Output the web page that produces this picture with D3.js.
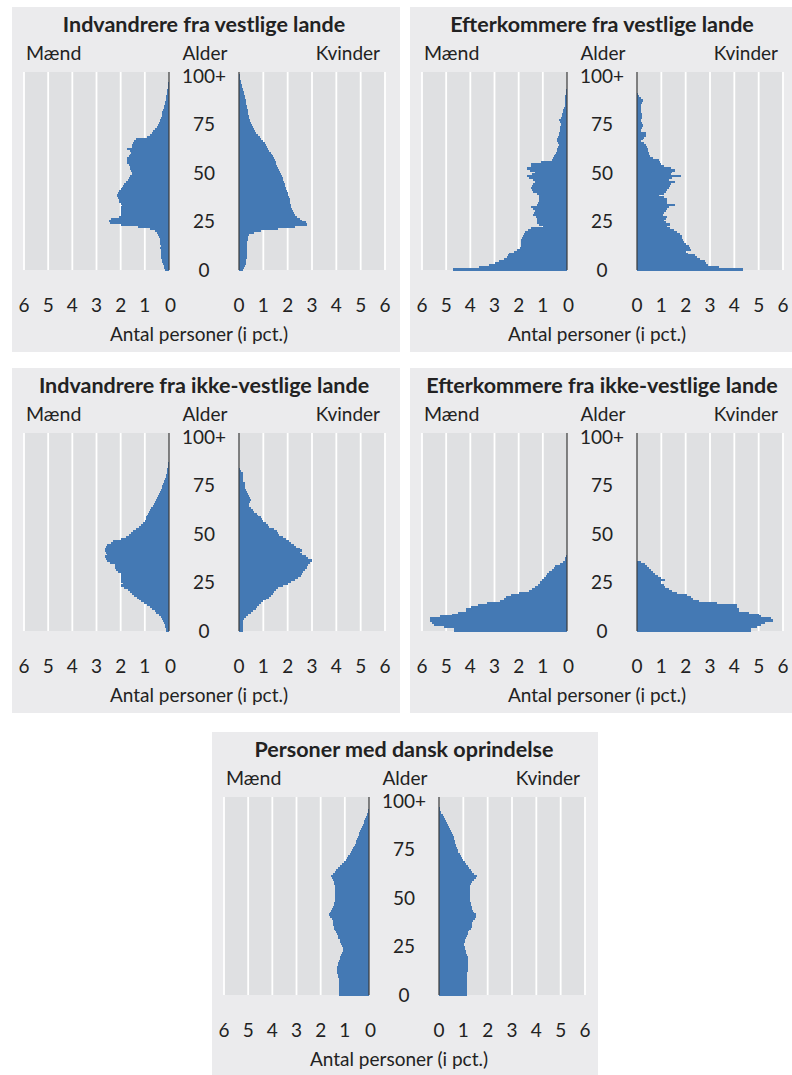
<!DOCTYPE html>
<html>
<head>
<meta charset="utf-8">
<script src="https://cdn.jsdelivr.net/npm/d3@7"></script>
<style>
  body { margin: 0; background: #fff; }
  text { font-family: Lato, "Open Sans", sans-serif; fill: #222; }
</style>
</head>
<body>
<script>
// aldersgrupper 0..100 (100 = 100+)
var ages = d3.range(0, 101)
var ageTicks = [0, 25, 50, 75, 100]
var ageTickLabels = ["0", "25", "50", "75", "100+"]
var pctTicks = [0, 1, 2, 3, 4, 5, 6]

var titles = [
  "Indvandrere fra vestlige lande",
  "Efterkommere fra vestlige lande",
  "Indvandrere fra ikke-vestlige lande",
  "Efterkommere fra ikke-vestlige lande",
  "Personer med dansk oprindelse"
]

// pct. af gruppen, index = alder
var vestIndvMaend = [0.15,0.2,0.22,0.25,0.28,0.3,0.32,0.33,0.34,0.35,
  0.35,0.36,0.35,0.36,0.37,0.37,0.38,0.4,0.44,0.48,
  0.6,0.8,1.3,2.0,2.45,2.5,2.4,2.05,2.0,2.0,
  1.98,1.97,1.97,1.95,2.0,2.05,2.08,2.12,2.15,2.1,
  2.05,2.0,1.95,1.9,1.87,1.8,1.7,1.65,1.6,1.55,
  1.52,1.56,1.6,1.62,1.65,1.72,1.74,1.72,1.65,1.6,
  1.58,1.62,1.75,1.55,1.52,1.5,1.45,1.35,0.9,0.8,
  0.72,0.65,0.56,0.5,0.46,0.42,0.39,0.36,0.33,0.3,
  0.28,0.27,0.24,0.22,0.2,0.18,0.16,0.14,0.13,0.11,
  0.1,0.09,0.07,0.06,0.05,0.04,0.03,0.02,0.02,0.01,0.01]
var vestIndvKvinder = [0.15,0.22,0.25,0.27,0.3,0.3,0.31,0.32,0.32,0.33,
  0.33,0.33,0.34,0.34,0.34,0.35,0.36,0.38,0.42,0.6,
  0.9,1.6,2.3,2.8,2.75,2.6,2.5,2.4,2.3,2.25,
  2.2,2.18,2.15,2.12,2.1,2.1,2.08,2.05,2.03,2.0,
  1.98,1.95,1.92,1.9,1.87,1.85,1.82,1.8,1.76,1.72,
  1.7,1.66,1.62,1.58,1.54,1.5,1.46,1.42,1.38,1.34,
  1.3,1.25,1.2,1.15,1.1,1.05,0.98,0.92,0.85,0.78,
  0.7,0.65,0.6,0.56,0.52,0.48,0.46,0.44,0.42,0.4,
  0.38,0.36,0.35,0.33,0.32,0.3,0.29,0.28,0.26,0.24,
  0.22,0.2,0.18,0.16,0.14,0.12,0.1,0.08,0.06,0.04,0.03]

var vestEfterMaend = [4.7,3.64,3.22,3.0,2.81,2.6,2.48,2.45,2.4,2.2,
  2.07,1.95,1.9,1.9,1.9,1.9,1.86,1.82,1.78,1.74,
  1.6,1.49,0.99,1.15,1.24,1.24,1.24,1.3,1.4,1.35,
  1.32,1.4,1.49,1.24,1.2,1.16,1.16,1.16,1.16,1.25,
  1.4,1.45,1.49,1.45,1.4,1.32,1.4,1.57,1.65,1.45,
  1.32,1.55,1.65,1.5,1.49,1.07,0.62,0.57,0.55,0.5,
  0.45,0.41,0.4,0.36,0.33,0.36,0.41,0.4,0.36,0.35,
  0.32,0.3,0.28,0.27,0.25,0.25,0.3,0.33,0.25,0.22,
  0.2,0.17,0.15,0.13,0.1,0.08,0.08,0.08,0.08,0.07,
  0.05,0.04,0.03,0.02,0.02,0.01,0.01,0,0,0,0]
var vestEfterKvinder = [4.35,3.37,2.9,2.85,2.8,2.6,2.45,2.38,2.1,2.02,
  2.22,2.18,2.13,2.02,1.95,1.9,1.85,1.83,1.78,1.65,
  1.53,1.35,1.23,1.34,1.2,1.12,1.18,1.23,1.06,1.1,
  1.2,1.23,1.3,1.56,1.23,1.23,1.23,1.1,0.9,1.12,
  1.18,1.23,1.31,1.35,1.39,1.56,1.31,1.45,1.8,1.39,
  1.45,1.56,1.4,1.1,0.98,0.95,0.9,0.65,0.55,0.5,
  0.48,0.45,0.45,0.4,0.37,0.3,0.18,0.25,0.29,0.35,
  0.37,0.15,0.15,0.2,0.23,0.2,0.15,0.15,0.2,0.2,
  0.2,0.18,0.15,0.15,0.15,0.18,0.2,0.23,0.15,0.1,
  0.05,0.02,0.01,0,0,0,0,0,0,0,0]

var ikkeIndvMaend = [0.14,0.14,0.15,0.16,0.2,0.25,0.3,0.33,0.43,0.52,
  0.6,0.71,0.8,0.9,1.05,1.15,1.25,1.34,1.45,1.53,
  1.62,1.7,1.85,1.97,1.92,2.0,2.0,2.0,2.0,2.0,
  2.1,2.2,2.22,2.22,2.22,2.45,2.55,2.6,2.63,2.58,
  2.6,2.63,2.66,2.6,2.55,2.4,2.3,2.0,1.8,1.64,
  1.56,1.48,1.35,1.25,1.15,1.08,1.0,0.97,0.94,0.9,
  0.87,0.83,0.8,0.74,0.68,0.64,0.6,0.55,0.5,0.46,
  0.4,0.36,0.33,0.3,0.27,0.25,0.22,0.2,0.16,0.14,
  0.12,0.1,0.08,0.07,0.06,0.05,0.05,0.02,0.02,0.01,
  0.01,0.01,0,0,0,0,0,0,0,0,0]
var ikkeIndvKvinder = [0.15,0.15,0.15,0.15,0.15,0.15,0.2,0.28,0.38,0.48,
  0.57,0.68,0.76,0.82,0.9,1.0,1.1,1.24,1.32,1.4,
  1.45,1.5,1.6,1.8,2.0,2.15,2.3,2.42,2.55,2.6,
  2.65,2.7,2.79,2.8,2.85,2.9,3.0,2.82,2.75,2.6,
  2.5,2.57,2.5,2.35,2.25,2.15,2.05,1.95,1.8,1.65,
  1.6,1.55,1.45,1.25,1.2,1.1,1.0,0.95,0.9,0.78,
  0.72,0.62,0.57,0.5,0.42,0.42,0.46,0.49,0.45,0.42,
  0.38,0.32,0.3,0.25,0.25,0.25,0.25,0.18,0.15,0.15,
  0.15,0.15,0.1,0.05,0,0,0,0,0,0,
  0,0,0,0,0,0,0,0,0,0,0]

var ikkeEfterMaend = [4.67,4.67,5.08,5.49,5.58,5.66,5.66,5.25,4.75,4.5,
  4.18,4.18,3.96,3.68,3.3,2.78,2.6,2.53,2.33,2.0,
  1.59,1.45,1.34,1.2,1.1,1.1,1.05,0.95,0.88,0.81,
  0.73,0.62,0.55,0.48,0.3,0.18,0.1,0.08,0.05,0,
  0,0,0,0,0,0,0,0,0,0,
  0,0,0,0,0,0,0,0,0,0,
  0,0,0,0,0,0,0,0,0,0,
  0,0,0,0,0,0,0,0,0,0,
  0,0,0,0,0,0,0,0,0,0,
  0,0,0,0,0,0,0,0,0,0,0]
var ikkeEfterKvinder = [4.68,4.68,4.93,5.1,5.26,5.59,5.5,5.1,5.0,4.6,
  4.19,4.19,4.1,4.1,3.29,2.55,2.3,2.22,2.05,1.64,
  1.45,1.32,1.15,1.1,0.99,0.99,1.15,0.99,0.85,0.74,
  0.65,0.58,0.5,0.42,0.33,0.16,0,0,0,0,
  0,0,0,0,0,0,0,0,0,0,
  0,0,0,0,0,0,0,0,0,0,
  0,0,0,0,0,0,0,0,0,0,
  0,0,0,0,0,0,0,0,0,0,
  0,0,0,0,0,0,0,0,0,0,
  0,0,0,0,0,0,0,0,0,0,0]

var danskMaend = [1.25,1.25,1.25,1.25,1.25,1.25,1.25,1.25,1.25,1.27,
  1.3,1.32,1.32,1.32,1.32,1.3,1.27,1.25,1.22,1.2,
  1.15,1.1,1.08,1.07,1.07,1.1,1.14,1.18,1.22,1.27,
  1.3,1.33,1.37,1.4,1.43,1.45,1.47,1.48,1.5,1.55,
  1.6,1.64,1.62,1.59,1.52,1.48,1.45,1.43,1.41,1.41,
  1.41,1.41,1.4,1.41,1.41,1.42,1.41,1.43,1.45,1.47,
  1.55,1.58,1.5,1.42,1.35,1.27,1.18,1.1,1.02,0.95,
  0.9,0.85,0.8,0.75,0.7,0.65,0.61,0.58,0.55,0.52,
  0.49,0.46,0.43,0.4,0.37,0.33,0.3,0.26,0.22,0.19,
  0.16,0.13,0.1,0.07,0.05,0.03,0.02,0.01,0.01,0,0]
var danskKvinder = [1.14,1.14,1.14,1.14,1.14,1.14,1.14,1.14,1.14,1.14,
  1.14,1.16,1.18,1.18,1.2,1.2,1.2,1.2,1.19,1.18,
  1.16,1.12,1.1,1.07,1.05,1.04,1.04,1.05,1.07,1.1,
  1.15,1.18,1.2,1.25,1.32,1.35,1.37,1.37,1.4,1.48,
  1.53,1.52,1.45,1.4,1.37,1.34,1.32,1.3,1.28,1.27,
  1.27,1.27,1.27,1.27,1.27,1.27,1.27,1.3,1.37,1.45,
  1.52,1.55,1.45,1.37,1.3,1.25,1.2,1.12,1.06,1.0,
  0.95,0.9,0.85,0.8,0.77,0.74,0.71,0.69,0.67,0.65,
  0.63,0.6,0.56,0.52,0.49,0.45,0.41,0.37,0.33,0.29,
  0.25,0.2,0.15,0.1,0.07,0.05,0.03,0.02,0.01,0.01,0]

var barColor = "#4479b4"

var svg = d3.select("body").append("svg")
    .attr("width", 792)
    .attr("height", 1075)

drawPanel(12, 7, 388, titles[0], vestIndvMaend, vestIndvKvinder)
drawPanel(410, 7, 382, titles[1], vestEfterMaend, vestEfterKvinder)
drawPanel(12, 368, 388, titles[2], ikkeIndvMaend, ikkeIndvKvinder)
drawPanel(410, 368, 382, titles[3], ikkeEfterMaend, ikkeEfterKvinder)
drawPanel(212, 732, 386, titles[4], danskMaend, danskKvinder)

function drawPanel(left, top, w, title, maend, kvinder) {
    var g = svg.append("g").attr("transform", "translate(" + left + "," + top + ")")

    g.append("rect")
        .attr("width", w)
        .attr("height", 345)
        .attr("fill", "#ebebed")

    var y = d3.scaleLinear().domain([0, 102]).range([263, 65])
    var xm = d3.scaleLinear().domain([0, 6]).range([157, 12])
    var xk = d3.scaleLinear().domain([0, 6]).range([227, 373])

    // plot backgrounds
    ;[xm, xk].forEach(function(x) {
        g.append("rect")
            .attr("x", Math.min(x(0), x(6)))
            .attr("y", y(102))
            .attr("width", Math.abs(x(6) - x(0)))
            .attr("height", y(0) - y(102))
            .attr("fill", "#dfe0e2")

        g.selectAll(null)
            .data(pctTicks.slice(1))
            .enter()
            .append("line")
            .attr("x1", function(d) { return x(d) })
            .attr("x2", function(d) { return x(d) })
            .attr("y1", y(102))
            .attr("y2", y(0))
            .attr("stroke", "#fff")
            .attr("stroke-width", 1.8)
    })

    var bh = y(0) - y(1)

    g.selectAll(".m")
        .data(ages.filter(function(a) { return maend[a] > 0 }))
        .enter()
        .append("rect")
        .attr("x", function(a) { return xm(maend[a]) })
        .attr("y", function(a) { return y(a + 1) })
        .attr("width", function(a) { return xm(0) - xm(maend[a]) })
        .attr("height", bh + 0.5)
        .attr("fill", barColor)
        .attr("shape-rendering", "crispEdges")

    g.selectAll(".k")
        .data(ages.filter(function(a) { return kvinder[a] > 0 }))
        .enter()
        .append("rect")
        .attr("x", xk(0))
        .attr("y", function(a) { return y(a + 1) })
        .attr("width", function(a) { return xk(kvinder[a]) - xk(0) })
        .attr("height", bh + 0.5)
        .attr("fill", barColor)
        .attr("shape-rendering", "crispEdges")

    // axis lines
    ;[xm(0), xk(0)].forEach(function(xx) {
        g.append("line")
            .attr("x1", xx).attr("x2", xx)
            .attr("y1", y(102)).attr("y2", y(0))
            .attr("stroke", "#3a3a3a")
            .attr("stroke-width", 1.2)
    })

    // age labels
    g.selectAll(".age")
        .data(ageTicks)
        .enter()
        .append("text")
        .attr("x", 192)
        .attr("y", function(d) { return y(d) })
        .attr("dy", "0.36em")
        .attr("text-anchor", "middle")
        .style("font-size", "19px")
        .text(function(d, i) { return ageTickLabels[i] })

    // pct tick labels
    ;[xm, xk].forEach(function(x) {
        g.selectAll(null)
            .data(pctTicks)
            .enter()
            .append("text")
            .attr("x", function(d) { return x(d) + (x === xm && d === 0 ? 1.5 : 0) })
            .attr("y", 305)
            .attr("text-anchor", "middle")
            .style("font-size", "19px")
            .text(function(d) { return d })
    })

    g.append("text")
        .attr("x", 187).attr("y", 334)
        .attr("text-anchor", "middle")
        .style("font-size", "19px")
        .text("Antal personer (i pct.)")

    g.append("text")
        .attr("x", 192).attr("y", 25)
        .attr("text-anchor", "middle")
        .style("font-size", "21.5px")
        .style("font-weight", "bold")
        .text(title)

    g.append("text").attr("x", 14).attr("y", 53)
        .style("font-size", "19.5px").text("Mænd")
    g.append("text").attr("x", 193).attr("y", 53)
        .attr("text-anchor", "middle")
        .style("font-size", "19px").text("Alder")
    g.append("text").attr("x", 368).attr("y", 53)
        .attr("text-anchor", "end")
        .style("font-size", "19px").text("Kvinder")
}
</script>
</body>
</html>
